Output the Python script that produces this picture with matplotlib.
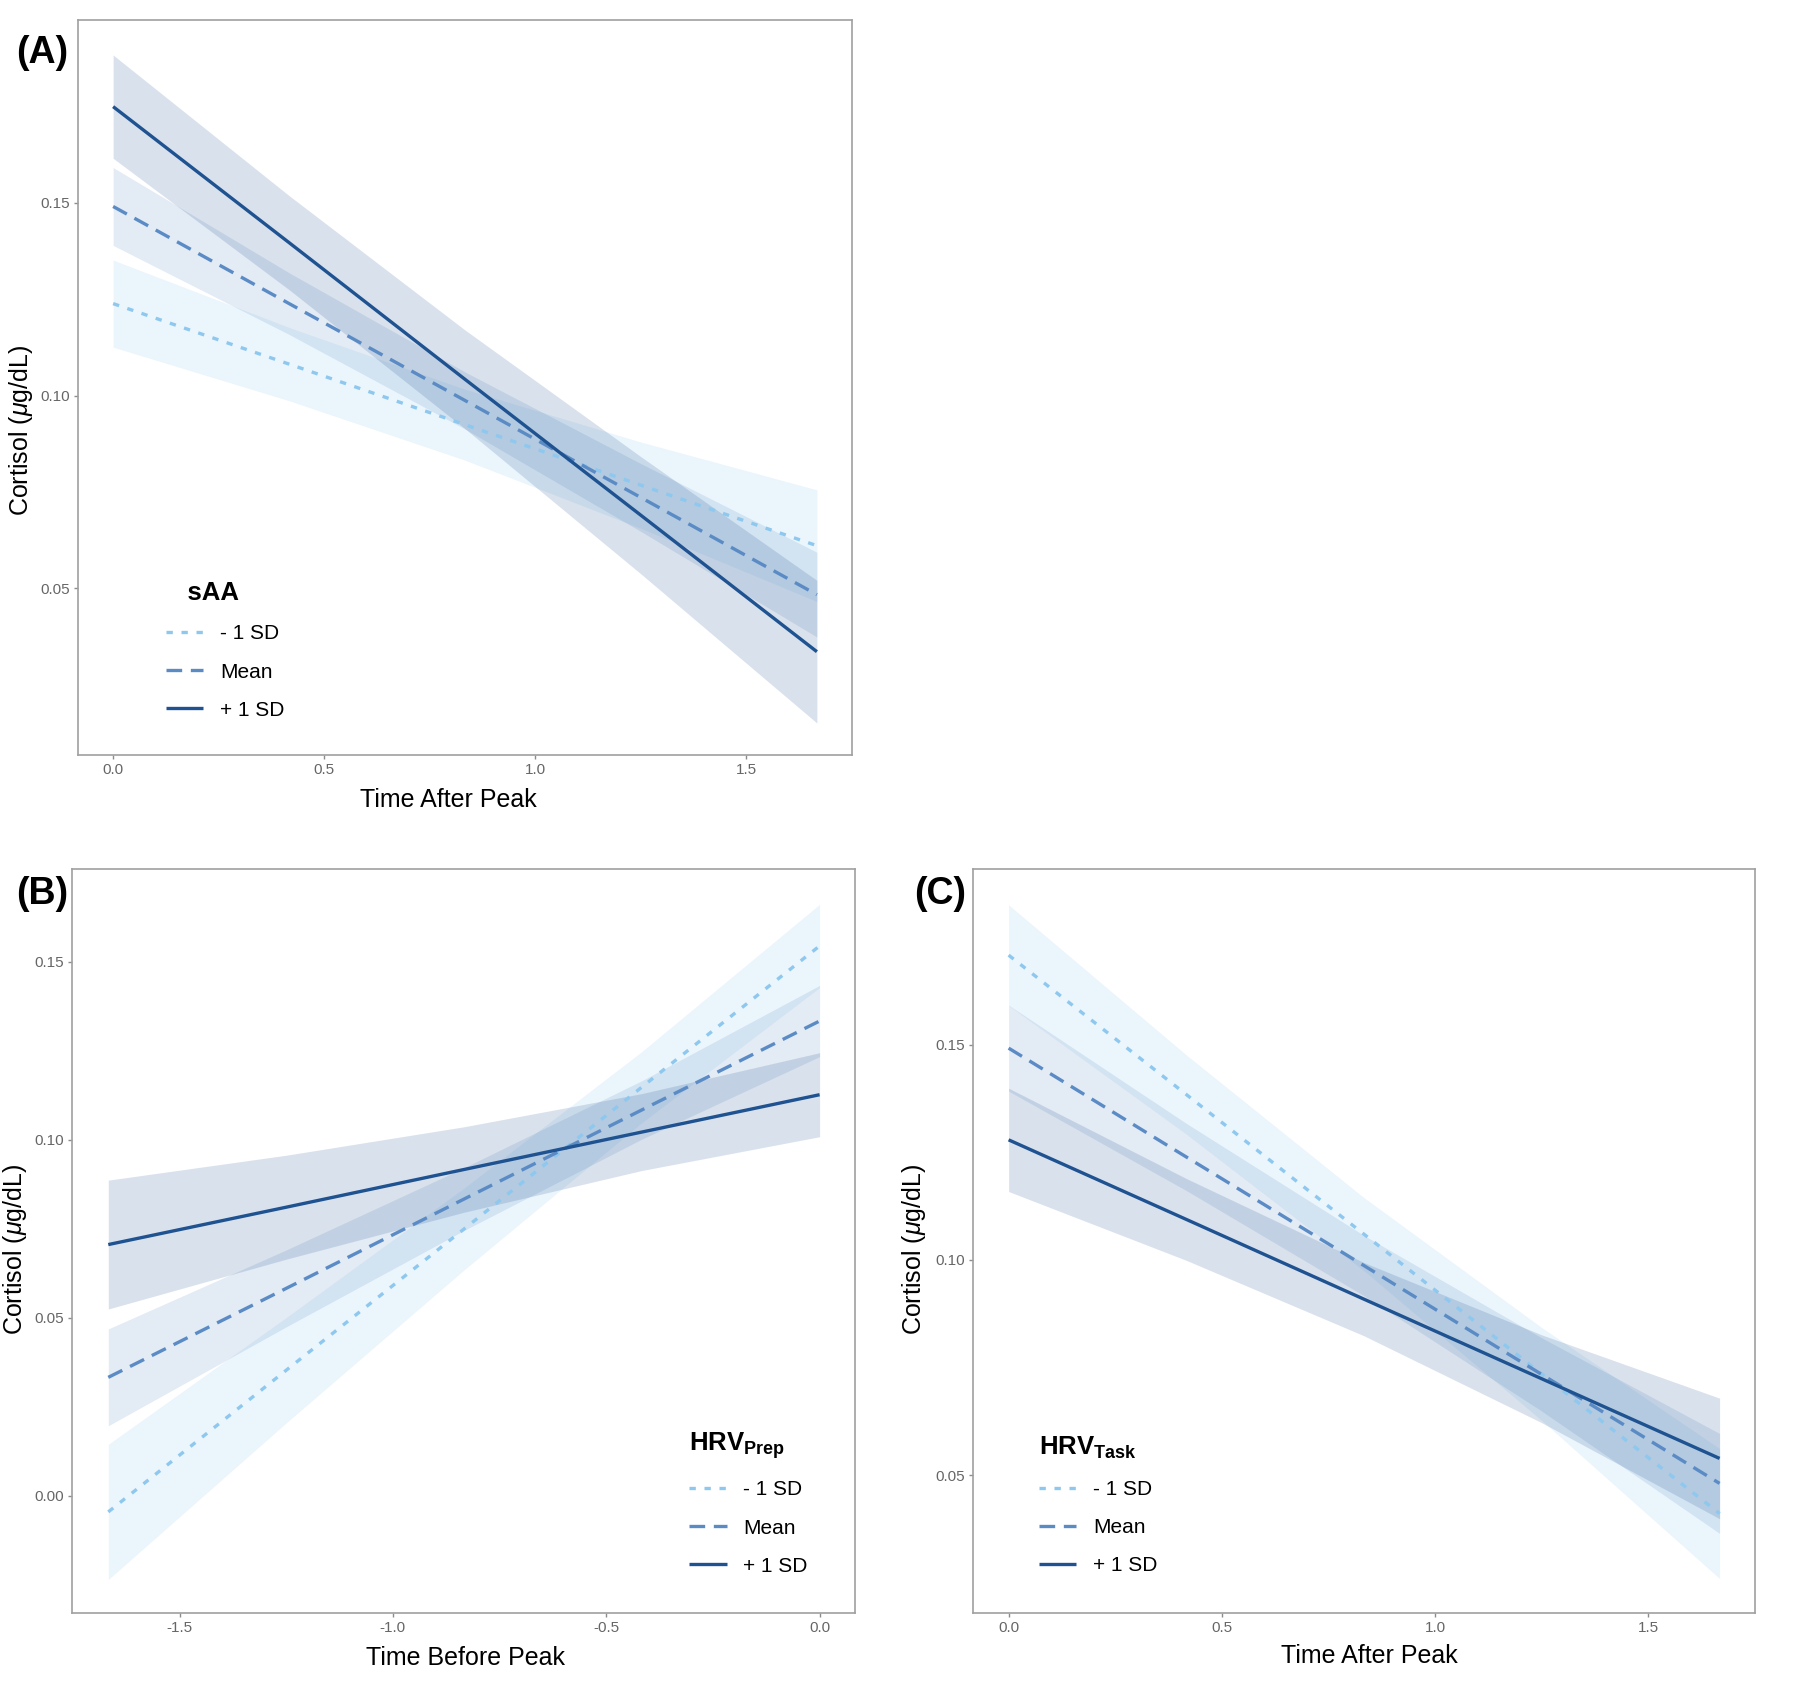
import numpy as np
import matplotlib
matplotlib.use("Agg")
import matplotlib.pyplot as plt

plt.rcParams['font.family'] = ['Liberation Sans', 'DejaVu Sans']
plt.rcParams['mathtext.fontset'] = 'custom'
plt.rcParams['mathtext.rm'] = 'Liberation Sans'
plt.rcParams['mathtext.it'] = 'Liberation Sans:italic'
plt.rcParams['mathtext.bf'] = 'Liberation Sans:bold'

# ---- data ----
levels = ['- 1 SD', 'Mean', '+ 1 SD']

# (A) time after peak, moderator sAA
xA = [0.0, 0.417, 0.833, 1.25, 1.667]
fitA = {'- 1 SD': [0.1239, 0.1082, 0.0925, 0.0768, 0.0611],
        'Mean':   [0.1491, 0.1239, 0.0988, 0.0736, 0.0484],
        '+ 1 SD': [0.1750, 0.1397, 0.1043, 0.0690, 0.0336]}
lowA = {'- 1 SD': [0.1126, 0.0987, 0.0833, 0.0656, 0.0466],
        'Mean':   [0.1390, 0.1159, 0.0914, 0.0648, 0.0374],
        '+ 1 SD': [0.1616, 0.1275, 0.0915, 0.0538, 0.0151]}
uppA = {'- 1 SD': [0.1352, 0.1177, 0.1017, 0.0880, 0.0756],
        'Mean':   [0.1592, 0.1319, 0.1062, 0.0824, 0.0594],
        '+ 1 SD': [0.1884, 0.1519, 0.1171, 0.0842, 0.0521]}

# (B) time before peak, moderator HRV prep
xB = [-1.667, -1.25, -0.833, -0.417, 0.0]
fitB = {'- 1 SD': [-0.0045, 0.0353, 0.0750, 0.1148, 0.1545],
        'Mean':   [0.0333, 0.0583, 0.0834, 0.1084, 0.1334],
        '+ 1 SD': [0.0706, 0.0811, 0.0917, 0.1022, 0.1127]}
lowB = {'- 1 SD': [-0.0235, 0.0205, 0.0635, 0.1048, 0.1428],
        'Mean':   [0.0197, 0.0475, 0.0746, 0.1002, 0.1234],
        '+ 1 SD': [0.0525, 0.0665, 0.0797, 0.0914, 0.1009]}
uppB = {'- 1 SD': [0.0145, 0.0501, 0.0865, 0.1248, 0.1662],
        'Mean':   [0.0469, 0.0691, 0.0922, 0.1166, 0.1434],
        '+ 1 SD': [0.0887, 0.0957, 0.1037, 0.1130, 0.1245]}

# (C) time after peak, moderator HRV task
xC = [0.0, 0.417, 0.833, 1.25, 1.667]
fitC = {'- 1 SD': [0.1708, 0.1384, 0.1060, 0.0735, 0.0411],
        'Mean':   [0.1492, 0.1239, 0.0987, 0.0734, 0.0481],
        '+ 1 SD': [0.1279, 0.1094, 0.0909, 0.0724, 0.0539]}
lowC = {'- 1 SD': [0.1591, 0.1292, 0.0975, 0.0627, 0.0260],
        'Mean':   [0.1392, 0.1161, 0.0917, 0.0649, 0.0365],
        '+ 1 SD': [0.1159, 0.0999, 0.0824, 0.0622, 0.0399]}
uppC = {'- 1 SD': [0.1825, 0.1476, 0.1145, 0.0843, 0.0562],
        'Mean':   [0.1592, 0.1317, 0.1057, 0.0819, 0.0597],
        '+ 1 SD': [0.1399, 0.1189, 0.0994, 0.0826, 0.0679]}

colors = {'- 1 SD': '#8ec8ee', 'Mean': '#5b8bc5', '+ 1 SD': '#1f5290'}
dashes = {'- 1 SD': (1.9, 2.6), 'Mean': (4.7, 2.6), '+ 1 SD': None}


def panel(ax, x, fit, low, upp, xlabel, xticks, yticks, xlim, ylim,
          legend_title, legend_xy, tag, tag_xy, xlab_xy, ylab_xy):
    for lv in levels:
        ax.fill_between(x, low[lv], upp[lv], color=colors[lv], alpha=0.17,
                        linewidth=0)
    for lv in levels:
        ln, = ax.plot(x, fit[lv], color=colors[lv], lw=2.4, label=lv,
                      solid_capstyle='butt', dash_capstyle='butt')
        if dashes[lv] is not None:
            ln.set_dashes(dashes[lv])
    ax.set_xlim(*xlim)
    ax.set_ylim(*ylim)
    ax.set_xticks(xticks)
    ax.set_xticklabels(['%.1f' % t for t in xticks])
    ax.set_yticks(yticks)
    ax.set_yticklabels(['%.2f' % t for t in yticks])
    ax.tick_params(colors='#8c8c8c', labelcolor='#666666', labelsize=11,
                   length=3, width=1, pad=2.5)
    for s in ax.spines.values():
        s.set_color('#a0a0a0')
        s.set_linewidth(1.2)
    ax.set_xlabel(xlabel, fontsize=18)
    ax.set_ylabel(r'Cortisol ($\mu$g/dL)', fontsize=18)
    ax.xaxis.set_label_coords(*xlab_xy)
    ax.yaxis.set_label_coords(*ylab_xy)
    leg = ax.legend(loc='upper left', bbox_to_anchor=legend_xy,
                    bbox_transform=fig.transFigure, frameon=False,
                    title=legend_title, fontsize=15, title_fontsize=18.5,
                    handlelength=1.8, handletextpad=0.8, labelspacing=0.92,
                    borderpad=0, borderaxespad=0, alignment='left')
    leg.get_title().set_fontweight('bold')
    fig.text(tag_xy[0], tag_xy[1], tag, fontsize=27, fontweight='bold',
             ha='left', va='center')


fig = plt.figure(figsize=(18, 16.97), dpi=100)
axA = fig.add_axes([0.0433, 0.5551, 0.43, 0.4334])
axB = fig.add_axes([0.04, 0.0495, 0.435, 0.4384])
axC = fig.add_axes([0.5406, 0.0495, 0.4344, 0.4384])

panel(axA, xA, fitA, lowA, uppA, 'Time After Peak', [0.0, 0.5, 1.0, 1.5],
      [0.05, 0.10, 0.15], (-0.0833, 1.75), (0.0068, 0.1976),
      '   sAA', (0.0922, 0.6575), '(A)', (0.009, 0.9688),
      (0.478, -0.045), (-0.055, 0.441))
panel(axB, xB, fitB, lowB, uppB, 'Time Before Peak', [-1.5, -1.0, -0.5, 0.0],
      [0.00, 0.05, 0.10, 0.15], (-1.752, 0.083), (-0.0329, 0.1761),
      r'$\mathbf{HRV_{Prep}}$', (0.3828, 0.1570), '(B)', (0.009, 0.473),
      (0.503, -0.045), (-0.055, 0.489))
panel(axC, xC, fitC, lowC, uppC, 'Time After Peak', [0.0, 0.5, 1.0, 1.5],
      [0.05, 0.10, 0.15], (-0.0833, 1.75), (0.018, 0.1908),
      r'$\mathbf{HRV_{Task}}$', (0.5772, 0.1546), '(C)', (0.508, 0.473),
      (0.507, -0.041), (-0.0575, 0.489))

fig.savefig('out.png', dpi=100)
